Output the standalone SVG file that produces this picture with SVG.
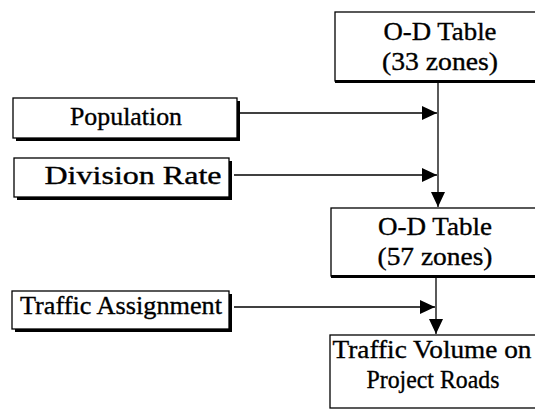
<svg xmlns="http://www.w3.org/2000/svg" width="535" height="410" viewBox="0 0 535 410">
<style>
.box{fill:#fff;stroke:#000;stroke-width:1.3}
.shadow{fill:#000}
.t{font-family:"Liberation Serif","Times New Roman",serif;font-size:26px;fill:#000;stroke:#000;stroke-width:0.35;text-anchor:middle}
.c{stroke:#000;stroke-width:1.3;fill:none}
</style>
<defs>
<marker id="ah" markerUnits="userSpaceOnUse" markerWidth="16" markerHeight="14" refX="15" refY="7" orient="auto">
<path d="M0,0 L15,7 L0,14 Z" fill="#000"/>
</marker>
</defs>
<rect width="535" height="410" fill="#fff"/>
<g id="connectors">
<line class="c" x1="438" y1="83" x2="438" y2="207" marker-end="url(#ah)"/>
<line class="c" x1="240" y1="113" x2="437" y2="113" marker-end="url(#ah)"/>
<line class="c" x1="234" y1="175" x2="437" y2="175" marker-end="url(#ah)"/>
<line class="c" x1="436" y1="278" x2="436" y2="334" marker-end="url(#ah)"/>
<line class="c" x1="234" y1="307" x2="435" y2="307" marker-end="url(#ah)"/>
</g>
<g id="od33">
<rect class="box" x="335" y="12" width="210" height="69"/>
<rect class="shadow" x="335" y="80" width="210" height="3"/>
<text class="t" x="440" y="40" textLength="113" lengthAdjust="spacingAndGlyphs">O-D Table</text>
<text class="t" x="440" y="70" textLength="116" lengthAdjust="spacingAndGlyphs">(33 zones)</text>
</g>
<g id="population">
<rect class="shadow" x="16" y="101" width="224" height="40"/>
<rect class="box" x="13" y="98" width="224" height="40"/>
<text class="t" x="126" y="125" textLength="112" lengthAdjust="spacingAndGlyphs">Population</text>
</g>
<g id="division">
<rect class="shadow" x="17" y="161" width="215" height="39"/>
<rect class="box" x="14" y="158" width="215" height="39"/>
<text class="t" x="133" y="184" textLength="177" lengthAdjust="spacingAndGlyphs">Division Rate</text>
</g>
<g id="od57">
<rect class="box" x="331" y="208" width="210" height="68"/>
<rect class="shadow" x="331" y="275" width="210" height="3"/>
<text class="t" x="435" y="235" textLength="114" lengthAdjust="spacingAndGlyphs">O-D Table</text>
<text class="t" x="435" y="265" textLength="115" lengthAdjust="spacingAndGlyphs">(57 zones)</text>
</g>
<g id="assignment">
<rect class="shadow" x="15" y="294" width="217" height="38"/>
<rect class="box" x="12" y="291" width="217" height="38"/>
<text class="t" x="121" y="314" textLength="202" lengthAdjust="spacingAndGlyphs">Traffic Assignment</text>
</g>
<g id="volume">
<rect class="box" x="330" y="335" width="215" height="73"/>
<text class="t" x="432" y="358" textLength="199" lengthAdjust="spacingAndGlyphs">Traffic Volume on</text>
<text class="t" x="433" y="388" textLength="133" lengthAdjust="spacingAndGlyphs">Project Roads</text>
</g>
</svg>
